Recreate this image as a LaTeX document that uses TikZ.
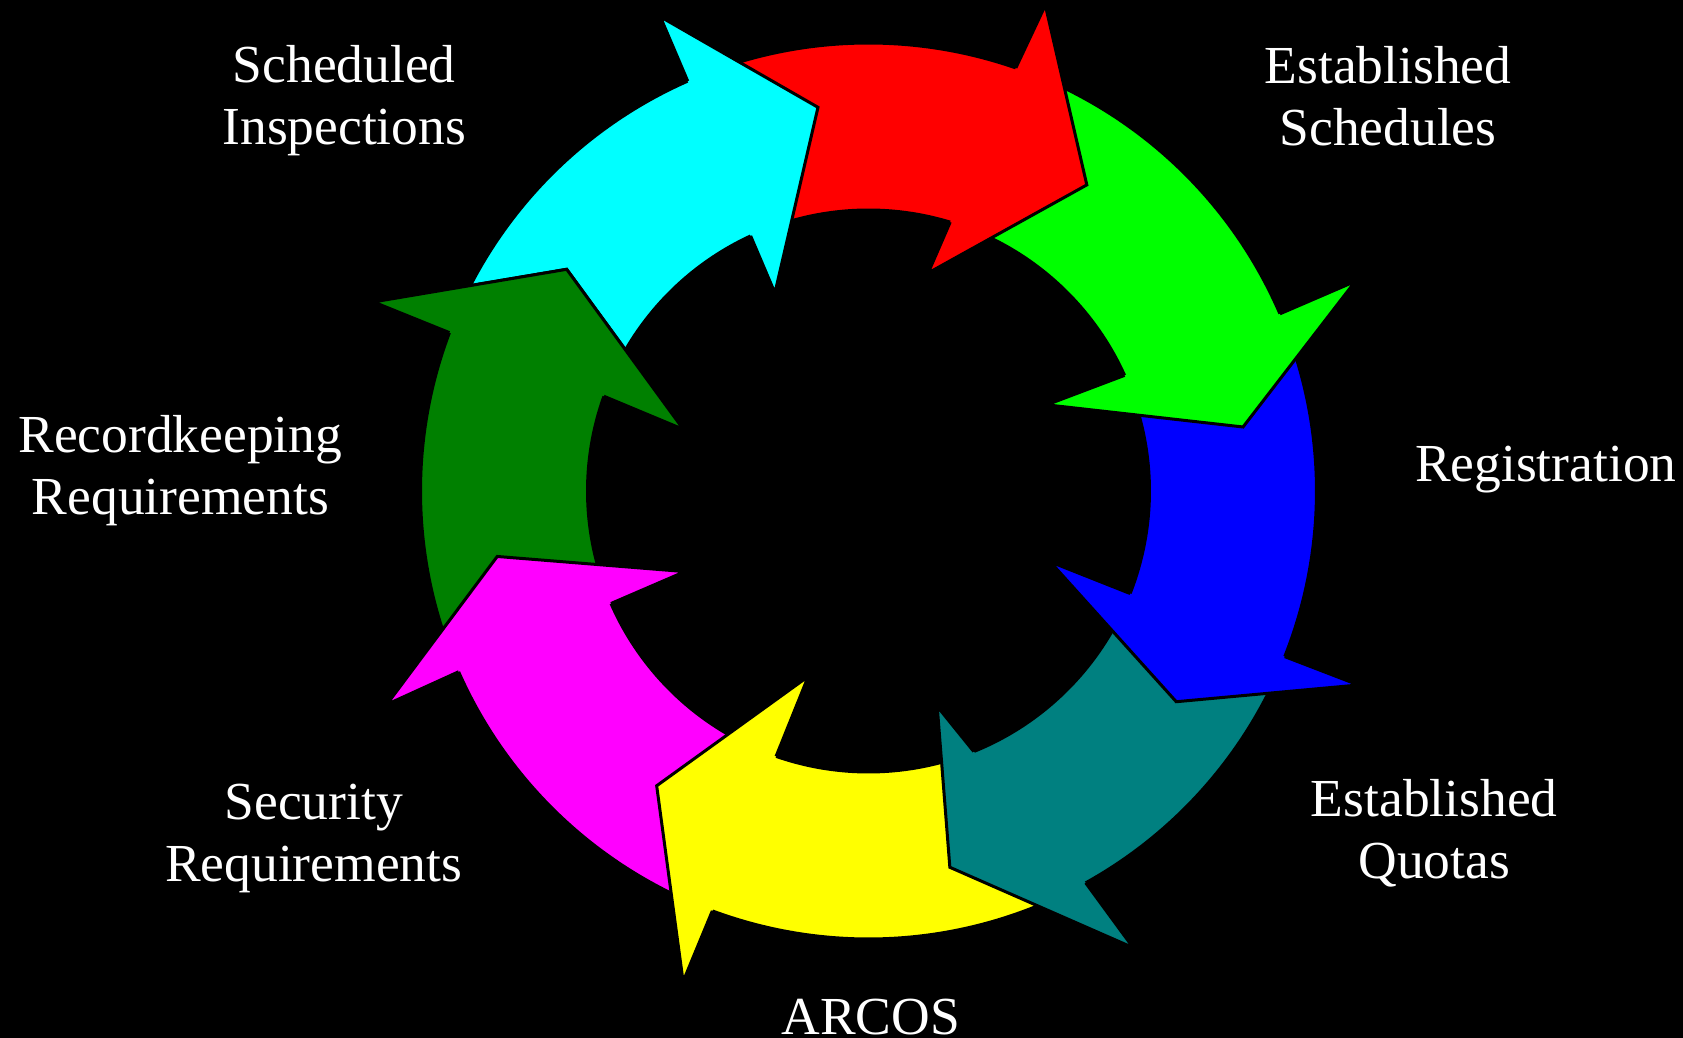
\documentclass[tikz,border=0pt]{standalone}
\usepackage{fontspec}
\setmainfont{Liberation Serif}
\definecolor{acyan}{RGB}{0,255,255}
\definecolor{ared}{RGB}{255,0,0}
\definecolor{agreen}{RGB}{0,255,0}
\definecolor{ablue}{RGB}{0,0,255}
\definecolor{ateal}{RGB}{0,128,128}
\definecolor{ayellow}{RGB}{255,255,0}
\definecolor{amagenta}{RGB}{255,0,255}
\definecolor{adkgreen}{RGB}{0,128,0}

\begin{document}
\begin{tikzpicture}
  [x=1pt,y=1pt,line width=3pt,
   every node/.style={text=white,font=\fontsize{53.5}{62}\selectfont,align=center,anchor=base},
   arrowpart/.style={draw=black,line join=miter}]
  \fill[black] (-868.5,-547) rectangle (814.5,491);
  \useasboundingbox (-868.5,-547) rectangle (814.5,491);

  \node (l1) at (-524.2,346)   {Scheduled\\Inspections};
  \node (l2) at (519.5,345)    {Established\\Schedules};
  \node (l3) at (677.3,9.3)    {Registration};
  \node (l4) at (565.8,-387.3) {Established\\Quotas};
  \node (l5) at (2.3,-543)     {ARCOS};
  \node (l6) at (-554.8,-390.7) {Security\\Requirements};
  \node (l7) at (-688.1,-23.3) {Recordkeeping\\Requirements};

  % ring of arrows: colour / tail out / tail in / notch out / notch in / outer barb / tip / inner barb
  \foreach \col/\tout/\tin/\nout/\nin/\bouta/\boutr/\tipa/\tipr/\bina/\binr in
    {acyan/157.3/158.3/113.8/114.8/113.7/518/97.5/387/115.3/219,
     ared/111.8/112.8/70.8/73.1/70.0/517/54.5/376/74.7/226,
     agreen/68.8/71.1/23.3/24.3/23.3/530/9.7/380/25.8/198,
     ablue/21.3/22.3/-21.7/-21.4/-21.6/527/-34.4/373/-21.3/195,
     ateal/-23.7/-23.4/-61.0/-68.0/-59.9/528/-77.8/385/-72.3/226,
     ayellow/-63/-70/-110.4/-109.2/-110.7/524.5/-125.7/363/-108.0/195,
     amagenta/-112.4/-111.2/-156.2/-156.4/-156.1/527/-170/377/-156.3/200.5,
     adkgreen/201.8/201.6/159.3/160.3/159.1/530/143.7/374.5/161.6/195}
    {
    \filldraw[arrowpart,fill=\col] (\tout:448) arc[start angle=\tout,end angle=\nout,radius=448]
      -- (\bouta:\boutr) -- (\tipa:\tipr) -- (\bina:\binr) -- (\nin:281)
      arc[start angle=\nin,end angle=\tin,radius=281] -- cycle;
    }

  % heads on top of the next tail
  \foreach \col/\nout/\nin/\bouta/\boutr/\tipa/\tipr/\bina/\binr in
    {acyan/113.8/114.8/113.7/518/97.5/387/115.3/219,
     ared/70.8/73.1/70.0/517/54.5/376/74.7/226,
     agreen/23.3/24.3/23.3/530/9.7/380/25.8/198,
     ablue/-21.7/-21.4/-21.6/527/-34.4/373/-21.3/195,
     ateal/-61.0/-68.0/-59.9/528/-77.8/385/-72.3/226,
     ayellow/-110.4/-109.2/-110.7/524.5/-125.7/363/-108.0/195,
     amagenta/-156.2/-156.4/-156.1/527/-170/377/-156.3/200.5,
     adkgreen/159.3/160.3/159.1/530/143.7/374.5/161.6/195}
    {
    \fill[\col] (\nout:448) -- (\bouta:\boutr) -- (\tipa:\tipr) -- (\bina:\binr) -- (\nin:281) -- cycle;
    \draw[arrowpart] (\nout:448) -- (\bouta:\boutr) -- (\tipa:\tipr) -- (\bina:\binr) -- (\nin:281);
    }
\end{tikzpicture}
\end{document}
